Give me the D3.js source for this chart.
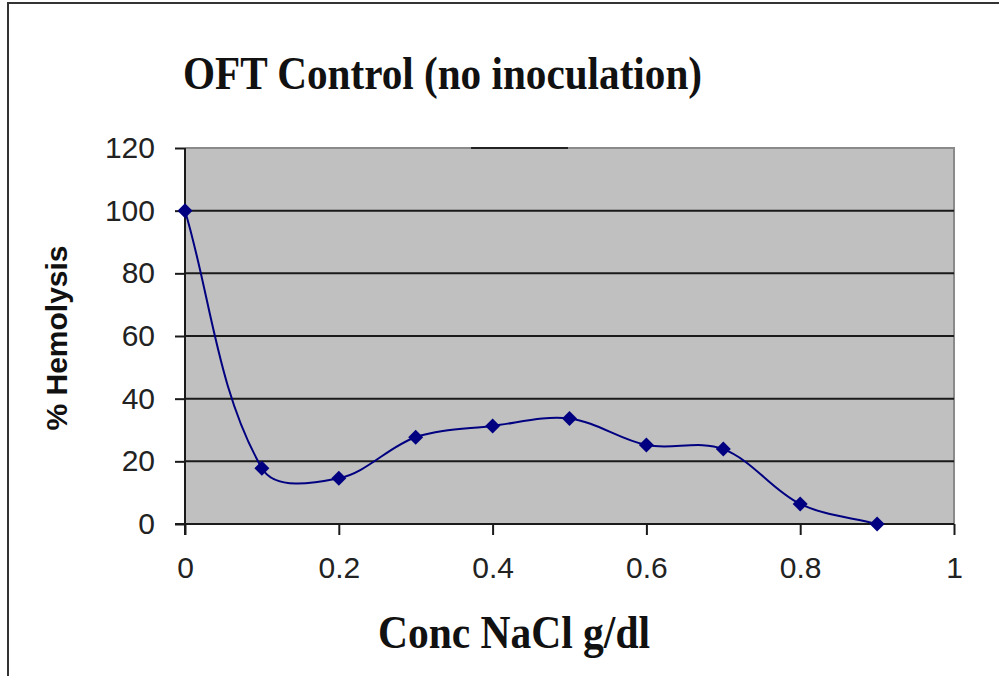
<!DOCTYPE html>
<html><head><meta charset="utf-8">
<script src="https://cdn.jsdelivr.net/npm/d3@7/dist/d3.min.js"></script>
<style>html,body{margin:0;padding:0;background:#fff;}svg{display:block;}</style>
</head><body>
<script>
const concentrations = [0, 0.1, 0.2, 0.3, 0.4, 0.5, 0.6, 0.7, 0.8, 0.9];
const hemolysis = [100, 17.8, 14.6, 27.7, 31.3, 33.7, 25.2, 23.9, 6.4, 0];
const xTicks = [0, 0.2, 0.4, 0.6, 0.8, 1];
const yTicks = [0, 20, 40, 60, 80, 100, 120];
const titleText = "OFT Control (no inoculation)";
const xTitle = "Conc NaCl g/dl";
const yTitle = "% Hemolysis";

const W = 999, H = 676;
const svg = d3.select("body").append("svg").attr("width", W).attr("height", H);
svg.append("rect").attr("width", W).attr("height", H).attr("fill", "#fff");

// outer frame (left + top)
svg.append("path").attr("d", `M8,${H} L8,3 L${W},3`).attr("fill", "none")
  .attr("stroke", "#333").attr("stroke-width", 2);

const x = d3.scaleLinear().domain([0, 1]).range([185, 954]);
const y = d3.scaleLinear().domain([0, 120]).range([524, 148]);

// plot background
svg.append("rect").attr("x", x(0)).attr("y", y(120)).attr("width", x(1) - x(0)).attr("height", y(0) - y(120))
  .attr("fill", "#c0c0c0");
svg.append("path").attr("d", `M${x(0)},${y(120)} L${x(1)},${y(120)} L${x(1)},${y(0)}`)
  .attr("fill", "none").attr("stroke", "#8a8a8a").attr("stroke-width", 2);
svg.append("line").attr("x1", x(0.372)).attr("x2", x(0.498)).attr("y1", y(120)).attr("y2", y(120))
  .attr("stroke", "#222").attr("stroke-width", 2);

// gridlines
svg.append("g").selectAll("line").data(yTicks.filter(d => d > 0 && d < 120)).join("line")
  .attr("x1", x(0)).attr("x2", x(1)).attr("y1", d => y(d)).attr("y2", d => y(d))
  .attr("stroke", "#1a1a1a").attr("stroke-width", 2);

// y axis
const yAxis = svg.append("g").attr("transform", `translate(${x(0)},0)`)
  .call(d3.axisLeft(y).tickValues(yTicks).tickSize(10).tickPadding(20).tickFormat(d3.format("d")));
yAxis.select(".domain").attr("stroke", "#1a1a1a").attr("stroke-width", 2).attr("d", `M0,${y(120)}V${y(0) + 11}`);
yAxis.selectAll(".tick line").attr("stroke", "#1a1a1a").attr("stroke-width", 2);
yAxis.selectAll(".tick text").attr("font-family", "Liberation Sans, Arial, sans-serif")
  .attr("font-size", 30).attr("fill", "#222");

// x axis
const xAxis = svg.append("g").attr("transform", `translate(0,${y(0)})`)
  .call(d3.axisBottom(x).tickValues(xTicks).tickSize(11).tickPadding(22).tickFormat(d => d3.format("")(d)));
xAxis.select(".domain").attr("stroke", "#1a1a1a").attr("stroke-width", 2).attr("d", `M${x(0) - 10},0H${x(1)}`);
xAxis.selectAll(".tick line").attr("stroke", "#1a1a1a").attr("stroke-width", 2);
xAxis.selectAll(".tick text").attr("font-family", "Liberation Sans, Arial, sans-serif")
  .attr("font-size", 30).attr("fill", "#222");

// Excel-like smoothed curve: tangent direction from neighbours, length from segment length
function ExcelSmooth(context) { this._context = context; }
ExcelSmooth.prototype = {
  areaStart() {}, areaEnd() {},
  lineStart() { this._pts = []; },
  point(px, py) { this._pts.push([+px, +py]); },
  lineEnd() {
    const p = this._pts, n = p.length, c = this._context;
    if (!n) return;
    c.moveTo(p[0][0], p[0][1]);
    const dir = i => {
      const a = p[Math.max(0, i - 1)], b = p[Math.min(n - 1, i + 1)];
      const dx = b[0] - a[0], dy = b[1] - a[1], l = Math.hypot(dx, dy) || 1;
      return [dx / l, dy / l];
    };
    for (let i = 0; i < n - 1; i++) {
      const a = p[i], b = p[i + 1];
      const len = Math.hypot(b[0] - a[0], b[1] - a[1]) / 3;
      const da = dir(i), db = dir(i + 1);
      c.bezierCurveTo(a[0] + da[0] * len, a[1] + da[1] * len,
                      b[0] - db[0] * len, b[1] - db[1] * len, b[0], b[1]);
    }
  }
};
const excelCurve = ctx => new ExcelSmooth(ctx);

const pts = concentrations.map((c, i) => [c, hemolysis[i]]);
const line = d3.line().x(d => x(d[0])).y(d => y(d[1])).curve(excelCurve);
svg.append("path").datum(pts).attr("d", line).attr("fill", "none")
  .attr("stroke", "#000080").attr("stroke-width", 2);

// diamond markers
const r = 7.5;
svg.append("g").selectAll("path").data(pts).join("path")
  .attr("d", d => `M${x(d[0])},${y(d[1]) - r}L${x(d[0]) + r},${y(d[1])}L${x(d[0])},${y(d[1]) + r}L${x(d[0]) - r},${y(d[1])}Z`)
  .attr("fill", "#000080");

// titles
svg.append("text").attr("x", 183).attr("y", 89).text(titleText)
  .attr("font-family", "Liberation Serif, Times New Roman, serif").attr("font-weight", "bold")
  .attr("font-size", 46).attr("fill", "#111")
  .attr("textLength", 519).attr("lengthAdjust", "spacingAndGlyphs");

svg.append("text").attr("x", 514).attr("y", 648).attr("text-anchor", "middle").text(xTitle)
  .attr("font-family", "Liberation Serif, Times New Roman, serif").attr("font-weight", "bold")
  .attr("font-size", 46).attr("fill", "#111")
  .attr("textLength", 272).attr("lengthAdjust", "spacingAndGlyphs");

svg.append("text").attr("transform", "translate(67,338) rotate(-90)").attr("text-anchor", "middle").text(yTitle)
  .attr("font-family", "Liberation Sans, Arial, sans-serif").attr("font-weight", "bold")
  .attr("font-size", 30).attr("fill", "#111");
</script>
</body></html>
